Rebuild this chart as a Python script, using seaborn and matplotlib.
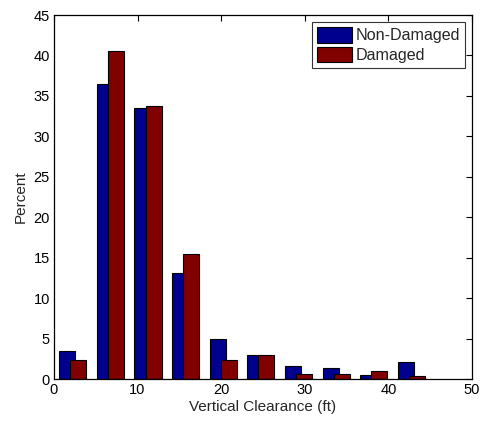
import numpy as np
import pandas as pd
import matplotlib
matplotlib.use("Agg")
import matplotlib.pyplot as plt
import seaborn as sns

bin_centers = [2.25, 6.75, 11.25, 15.75, 20.25, 24.75, 29.25, 33.75, 38.25, 42.75]
non_damaged = [3.47, 36.45, 33.45, 13.15, 4.9, 3.0, 1.6, 1.35, 0.52, 2.13]
damaged = [2.38, 40.55, 33.8, 15.43, 2.35, 3.0, 0.65, 0.65, 1.02, 0.4]
series_names = ["Non-Damaged", "Damaged"]
series_colors = ["#00008F", "#800000"]
x_ticks = [0, 10, 20, 30, 40, 50]
y_ticks = list(range(0, 50, 5))

df = pd.DataFrame({
    "x": bin_centers * 2,
    "pct": non_damaged + damaged,
    "group": [series_names[0]] * len(bin_centers) + [series_names[1]] * len(bin_centers),
})

sns.set_style("white")
plt.rcParams['font.family'] = ['Liberation Sans', 'DejaVu Sans']

fig = plt.figure(figsize=(4.86, 4.23), dpi=100)
ax = fig.add_axes([0.111, 0.104, 0.86, 0.8605])

sns.barplot(data=df, x="x", y="pct", hue="group", hue_order=series_names,
            palette=series_colors, native_scale=True, width=0.59,
            edgecolor="black", linewidth=0.8, saturation=1, ax=ax, legend=True)

# widen bars about their centers so that they overlap slightly, like the original
for p in ax.patches:
    w = p.get_width()
    p.set_x(p.get_x() - 0.22 * w)
    p.set_width(w * 1.44)

ax.set_xlim(0, 50)
ax.set_ylim(0, 45)
ax.set_xticks(x_ticks)
ax.set_yticks(y_ticks)
ax.tick_params(direction="in", length=4, width=0.8, top=True, right=True,
               labelsize=10.5, pad=3, colors="black")
for s in ax.spines.values():
    s.set_color("black")
    s.set_linewidth(0.9)
ax.set_xlabel("Vertical Clearance (ft)", fontsize=11, labelpad=2)
ax.set_ylabel("Percent", fontsize=11, labelpad=4)

leg = ax.legend(loc="upper right", fontsize=11.6, frameon=True, fancybox=False,
                edgecolor="black", handlelength=2.2, handleheight=1.1,
                borderpad=0.3, labelspacing=0.2, handletextpad=0.2,
                borderaxespad=0.45)
leg.get_frame().set_linewidth(0.8)

fig.savefig("out.png", dpi=100)
